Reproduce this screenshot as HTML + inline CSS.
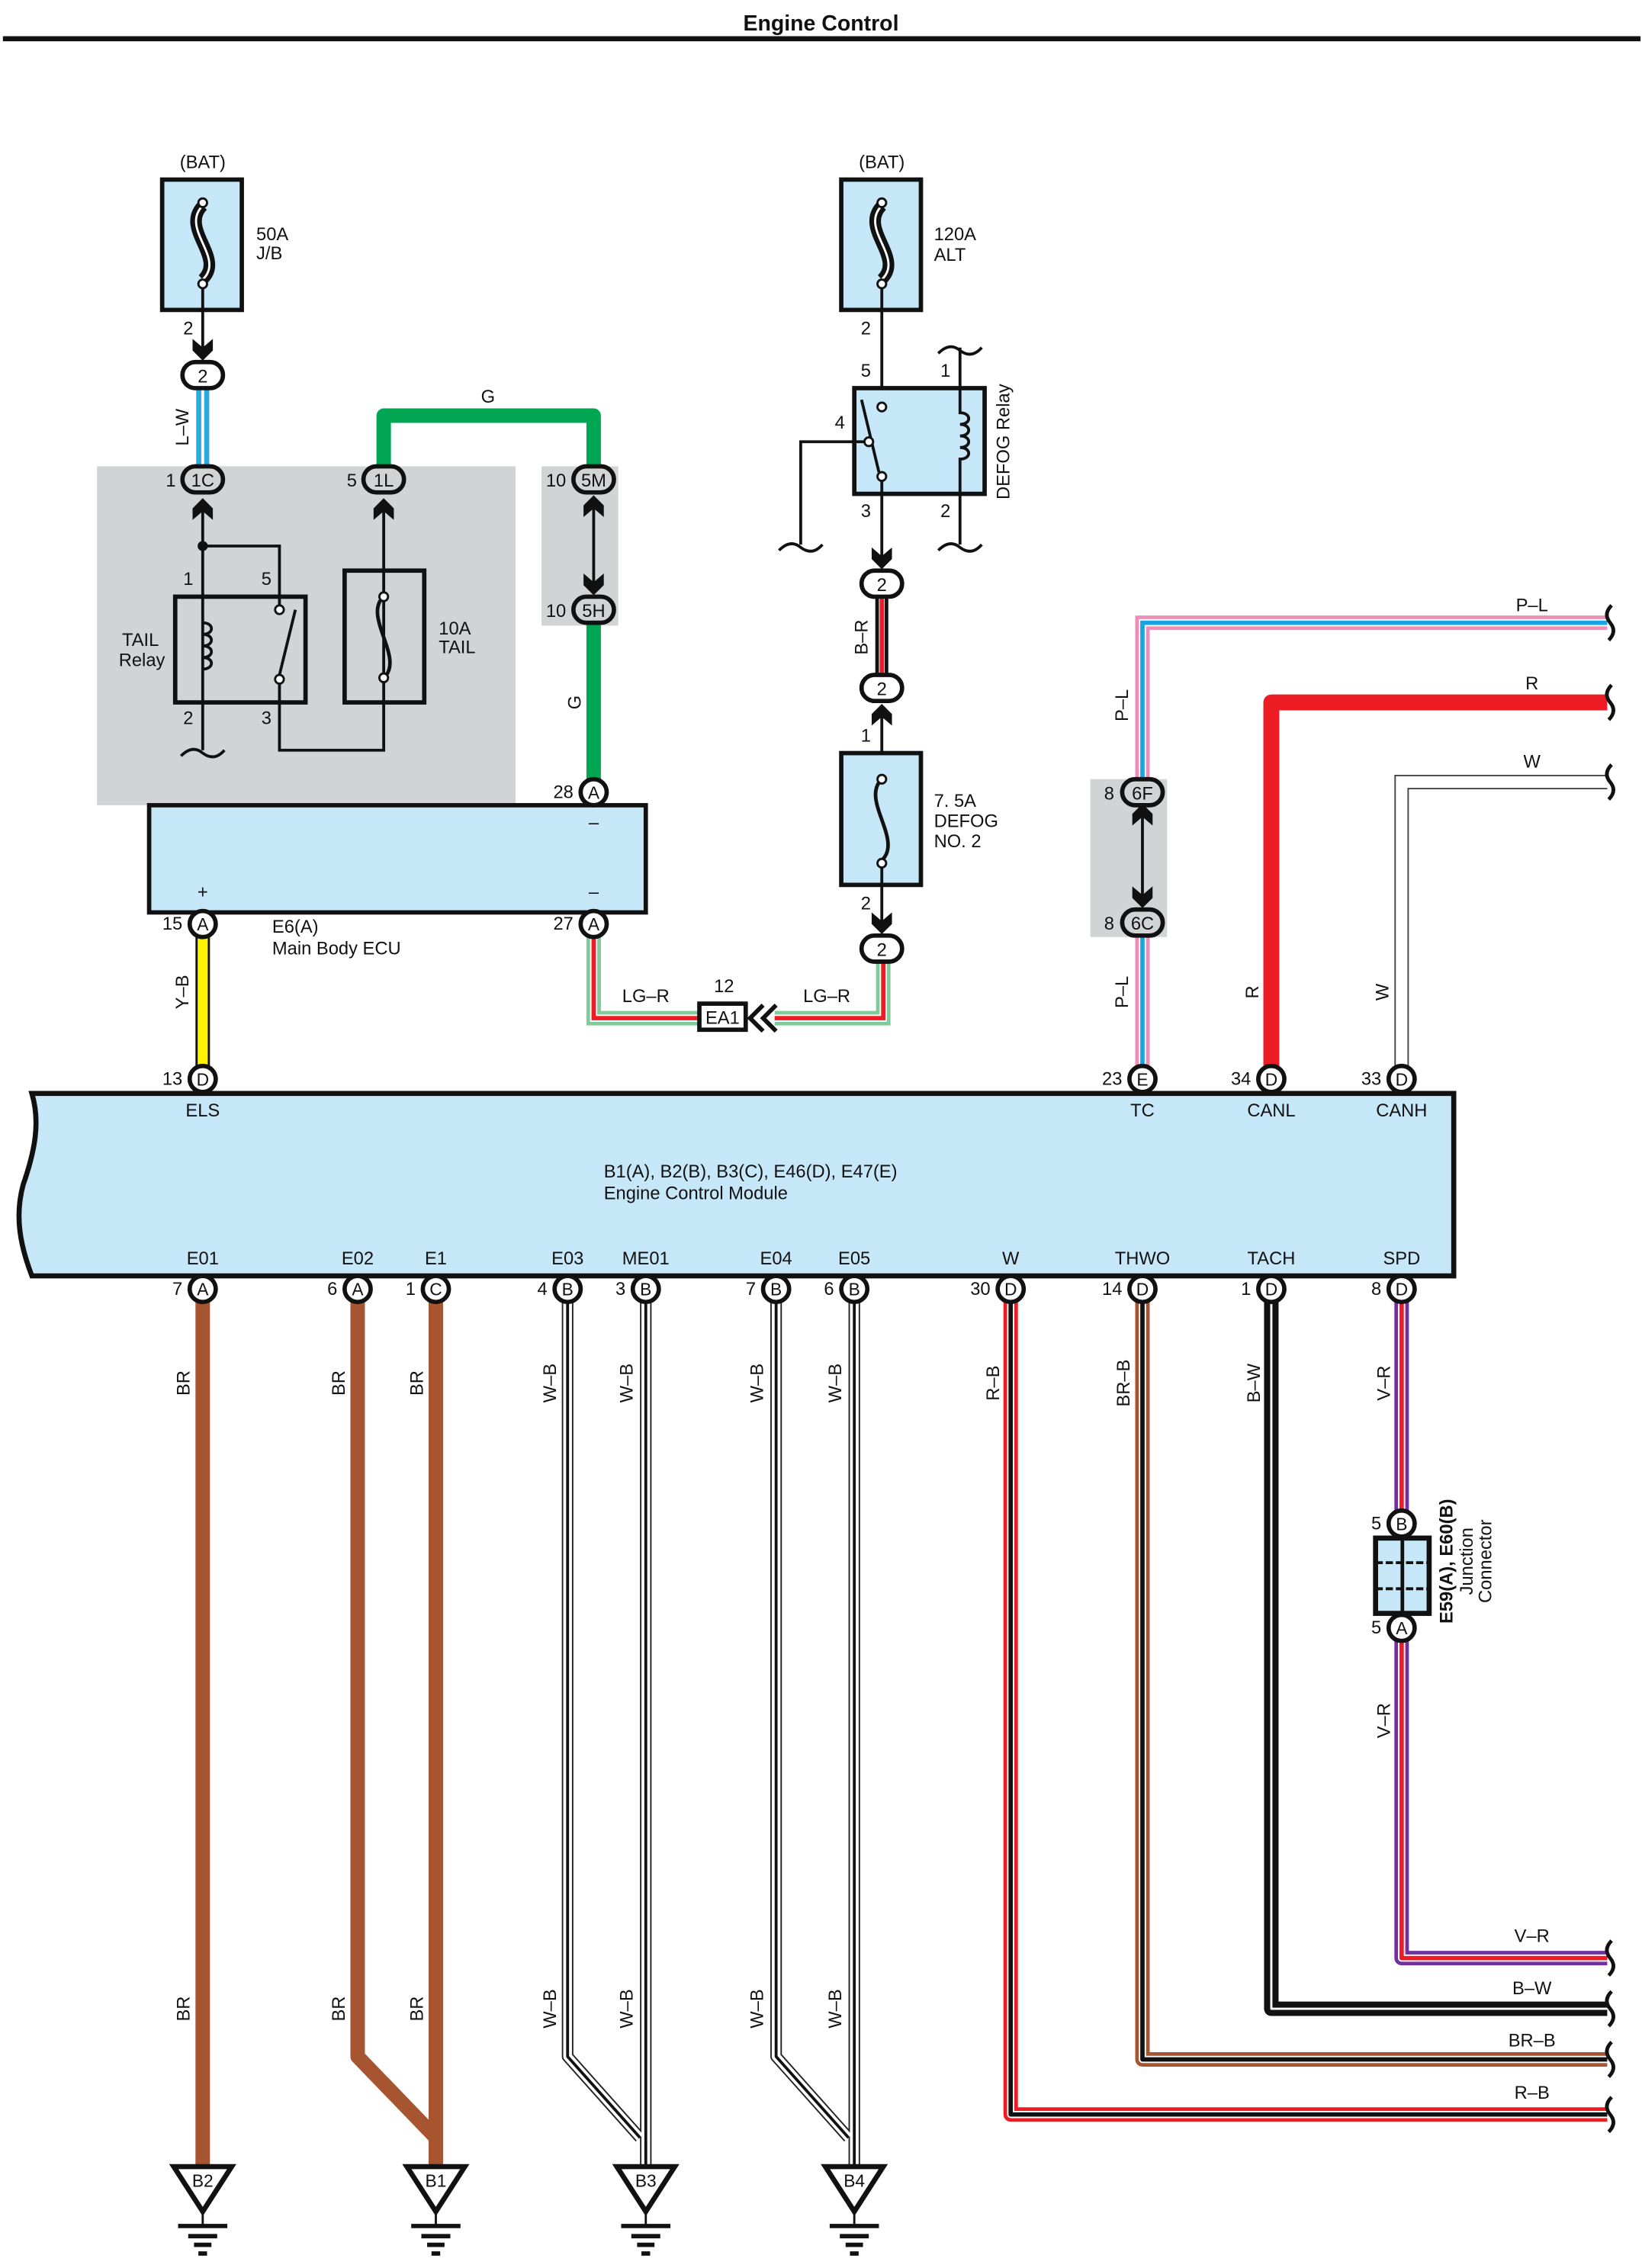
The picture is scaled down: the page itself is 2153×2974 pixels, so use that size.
<!DOCTYPE html>
<html><head><meta charset="utf-8"><style>
html,body{margin:0;padding:0;background:#fff;}
svg{display:block;}
text{font-family:"Liberation Sans",Arial,sans-serif;fill:#111;}
</style></head><body>
<svg width="2153" height="2974" viewBox="0 0 1134 1566" preserveAspectRatio="none" xmlns="http://www.w3.org/2000/svg">
<defs>
<path id="chD" d="M-7,-10 L0,-4 L7,-10 L7,-2 L0,5 L-7,-2Z" fill="#111"/>
<path id="chU" d="M-7,10 L0,4 L7,10 L7,2 L0,-5 L-7,2Z" fill="#111"/>
</defs>
<rect width="1134" height="1566" fill="#fff"/>
<text x="567" y="21" font-size="15" font-weight="bold" text-anchor="middle">Engine Control</text>
<rect x="2" y="25" width="1131" height="3.5" fill="#111"/>

<rect x="67" y="322" width="289" height="234" fill="#d1d3d4"/>
<rect x="374" y="322" width="53" height="110" fill="#d1d3d4"/>
<rect x="753" y="538" width="53" height="109" fill="#d1d3d4"/>

<text x="140" y="116" font-size="12.5" text-anchor="middle">(BAT)</text>
<rect x="112" y="124" width="55" height="90" fill="#c6e7f8" stroke="#111" stroke-width="3"/>
<path d="M140,142 C124,158 156,178 140,193" fill="none" stroke="#111" stroke-width="8"/>
<path d="M140,142 C124,158 156,178 140,193" fill="none" stroke="#fff" stroke-width="1.5"/>
<circle cx="140" cy="140" r="3" fill="#fff" stroke="#111" stroke-width="1.5"/>
<circle cx="140" cy="196" r="3" fill="#fff" stroke="#111" stroke-width="1.5"/>
<text x="177" y="166" font-size="12.5">50A</text><text x="177" y="179" font-size="12.5">J/B</text>
<line x1="140" y1="199" x2="140" y2="248" stroke="#111" stroke-width="2"/>
<text x="130" y="231" font-size="12.5" text-anchor="middle">2</text>
<use href="#chD" x="140" y="244"/>
<line x1="140" y1="268" x2="140" y2="322" stroke="#29abe2" stroke-width="9"/>
<line x1="140" y1="268" x2="140" y2="322" stroke="#fff" stroke-width="2"/>
<text transform="translate(130,295) rotate(-90)" font-size="12.5" text-anchor="middle">L–W</text>

<path d="M265,322 V287 H410 V322" fill="none" stroke="#00a651" stroke-width="10" stroke-linejoin="round"/>
<text x="337" y="278" font-size="12.5" text-anchor="middle">G</text>
<line x1="410" y1="430" x2="410" y2="538" stroke="#00a651" stroke-width="10"/>
<text transform="translate(401,485) rotate(-90)" font-size="12.5" text-anchor="middle">G</text>
<line x1="410" y1="345" x2="410" y2="408" stroke="#111" stroke-width="2"/>
<use href="#chU" x="410" y="347"/><use href="#chD" x="410" y="406"/>

<g stroke="#111" stroke-width="3">
<rect x="126" y="250" width="28" height="18" rx="9" fill="#fff"/>
<rect x="126" y="322" width="28" height="18" rx="9" fill="#d1d3d4"/>
<rect x="251" y="322" width="28" height="18" rx="9" fill="#d1d3d4"/>
<rect x="396" y="322" width="28" height="18" rx="9" fill="#d1d3d4"/>
<rect x="396" y="412" width="28" height="18" rx="9" fill="#d1d3d4"/>
</g>
<g font-size="12.5" text-anchor="middle">
<text x="140" y="264">2</text><text x="140" y="336">1C</text><text x="265" y="336">1L</text>
<text x="410" y="336">5M</text><text x="410" y="426">5H</text>
<text x="118" y="336">1</text><text x="243" y="336">5</text><text x="384" y="336">10</text><text x="384" y="426">10</text>
</g>

<use href="#chU" x="140" y="349"/><use href="#chU" x="265" y="349"/>
<line x1="140" y1="350" x2="140" y2="518" stroke="#111" stroke-width="2"/>
<path d="M125,522 q8,-8 15,-2 q8,6 15,-2" fill="none" stroke="#111" stroke-width="2"/>
<circle cx="140" cy="377" r="3.5" fill="#111"/>
<path d="M140,377 H193 V418" fill="none" stroke="#111" stroke-width="2"/>
<rect x="121" y="412" width="90" height="73" fill="none" stroke="#111" stroke-width="3"/>
<path d="M140,430 c8,0 8,8 0,8 c8,0 8,8 0,8 c8,0 8,8 0,8 c8,0 8,8 0,8" fill="none" stroke="#111" stroke-width="2"/>
<circle cx="193" cy="421" r="3" fill="#fff" stroke="#111" stroke-width="1.5"/>
<circle cx="193" cy="469" r="3" fill="#fff" stroke="#111" stroke-width="1.5"/>
<line x1="193" y1="466" x2="204" y2="421" stroke="#111" stroke-width="2"/>
<path d="M193,472 V518 H265 V350" fill="none" stroke="#111" stroke-width="2"/>
<text x="130" y="404" font-size="12.5" text-anchor="middle">1</text><text x="184" y="404" font-size="12.5" text-anchor="middle">5</text>
<text x="130" y="500" font-size="12.5" text-anchor="middle">2</text><text x="184" y="500" font-size="12.5" text-anchor="middle">3</text>
<text x="97" y="446" font-size="12.5" text-anchor="middle">TAIL</text><text x="98" y="460" font-size="12.5" text-anchor="middle">Relay</text>
<rect x="238" y="394" width="55" height="91" fill="none" stroke="#111" stroke-width="3"/>
<path d="M265,412 C250,425 280,455 265,468" fill="none" stroke="#111" stroke-width="2.5"/>
<circle cx="265" cy="412" r="3" fill="#fff" stroke="#111" stroke-width="1.5"/>
<circle cx="265" cy="468" r="3" fill="#fff" stroke="#111" stroke-width="1.5"/>
<text x="303" y="438" font-size="12.5">10A</text><text x="303" y="451" font-size="12.5">TAIL</text>

<rect x="103" y="556" width="343" height="74" fill="#c6e7f8" stroke="#111" stroke-width="3"/>
<text x="410" y="572" font-size="12.5" text-anchor="middle">–</text>
<text x="140" y="620" font-size="12.5" text-anchor="middle">+</text>
<text x="410" y="620" font-size="12.5" text-anchor="middle">–</text>
<text x="188" y="644" font-size="12.5">E6(A)</text><text x="188" y="659" font-size="12.5">Main Body ECU</text>

<line x1="140" y1="646" x2="140" y2="738" stroke="#111" stroke-width="10"/>
<line x1="140" y1="646" x2="140" y2="738" stroke="#fff200" stroke-width="7"/>
<text transform="translate(130,685) rotate(-90)" font-size="12.5" text-anchor="middle">Y–B</text>

<path d="M410,646 V703 H483 M535,703 H610 V664" fill="none" stroke="#7fcc9a" stroke-width="10"/>
<path d="M410,646 V703 H483 M535,703 H610 V664" fill="none" stroke="#fff" stroke-width="5"/>
<path d="M410,646 V703 H483 M535,703 H610 V664" fill="none" stroke="#ed1c24" stroke-width="3"/>
<rect x="483" y="693" width="32" height="18" fill="#fff" stroke="#111" stroke-width="3"/>
<text x="499" y="707" font-size="12.5" text-anchor="middle">EA1</text>
<text x="500" y="685" font-size="12.5" text-anchor="middle">12</text>
<path d="M527,694 L518,703 L527,712 M536,694 L527,703 L536,712" fill="none" stroke="#111" stroke-width="3"/>
<text x="446" y="692" font-size="12.5" text-anchor="middle">LG–R</text>
<text x="571" y="692" font-size="12.5" text-anchor="middle">LG–R</text>

<text x="609" y="116" font-size="12.5" text-anchor="middle">(BAT)</text>
<rect x="581" y="124" width="55" height="90" fill="#c6e7f8" stroke="#111" stroke-width="3"/>
<path d="M609,142 C593,158 625,178 609,193" fill="none" stroke="#111" stroke-width="8"/>
<path d="M609,142 C593,158 625,178 609,193" fill="none" stroke="#fff" stroke-width="1.5"/>
<circle cx="609" cy="140" r="3" fill="#fff" stroke="#111" stroke-width="1.5"/>
<circle cx="609" cy="196" r="3" fill="#fff" stroke="#111" stroke-width="1.5"/>
<text x="645" y="166" font-size="12.5">120A</text><text x="645" y="180" font-size="12.5">ALT</text>
<line x1="609" y1="199" x2="609" y2="280" stroke="#111" stroke-width="2"/>
<text x="598" y="231" font-size="12.5" text-anchor="middle">2</text>
<text x="598" y="260" font-size="12.5" text-anchor="middle">5</text>
<text x="653" y="260" font-size="12.5" text-anchor="middle">1</text>
<rect x="590" y="268" width="90" height="73" fill="#c6e7f8" stroke="#111" stroke-width="3"/>
<circle cx="609" cy="281" r="3" fill="#fff" stroke="#111" stroke-width="1.5"/>
<circle cx="609" cy="329" r="3" fill="#fff" stroke="#111" stroke-width="1.5"/>
<line x1="607" y1="326" x2="595" y2="276" stroke="#111" stroke-width="2"/>
<circle cx="600" cy="305" r="3" fill="#fff" stroke="#111" stroke-width="1.5"/>
<path d="M597,305 H553 V376" fill="none" stroke="#111" stroke-width="2"/>
<path d="M538,380 q8,-8 15,-2 q8,6 15,-2" fill="none" stroke="#111" stroke-width="2"/>
<text x="580" y="296" font-size="12.5" text-anchor="middle">4</text>
<path d="M663,240 V285 c8,0 8,8 0,8 c8,0 8,8 0,8 c8,0 8,8 0,8 c8,0 8,8 0,8 V376" fill="none" stroke="#111" stroke-width="2"/>
<path d="M648,244 q8,-8 15,-2 q8,6 15,-2" fill="none" stroke="#111" stroke-width="2"/>
<path d="M648,380 q8,-8 15,-2 q8,6 15,-2" fill="none" stroke="#111" stroke-width="2"/>
<text x="598" y="357" font-size="12.5" text-anchor="middle">3</text>
<text x="653" y="357" font-size="12.5" text-anchor="middle">2</text>
<text transform="translate(697,305) rotate(-90)" font-size="12.5" text-anchor="middle">DEFOG Relay</text>
<line x1="609" y1="332" x2="609" y2="392" stroke="#111" stroke-width="2"/>
<use href="#chD" x="609" y="388"/>
<line x1="609" y1="412" x2="609" y2="466" stroke="#111" stroke-width="9"/>
<line x1="609" y1="412" x2="609" y2="466" stroke="#fff" stroke-width="4"/>
<line x1="609" y1="412" x2="609" y2="466" stroke="#ed1c24" stroke-width="3"/>
<text transform="translate(599,440) rotate(-90)" font-size="12.5" text-anchor="middle">B–R</text>
<use href="#chU" x="609" y="491"/>
<line x1="609" y1="492" x2="609" y2="521" stroke="#111" stroke-width="2"/>
<text x="598" y="512" font-size="12.5" text-anchor="middle">1</text>
<rect x="581" y="520" width="55" height="91" fill="#c6e7f8" stroke="#111" stroke-width="3"/>
<path d="M609,538 C594,552 624,580 609,594" fill="none" stroke="#111" stroke-width="2.5"/>
<circle cx="609" cy="538" r="3" fill="#fff" stroke="#111" stroke-width="1.5"/>
<circle cx="609" cy="596" r="3" fill="#fff" stroke="#111" stroke-width="1.5"/>
<text x="645" y="557" font-size="12.5">7. 5A</text><text x="645" y="571" font-size="12.5">DEFOG</text><text x="645" y="585" font-size="12.5">NO. 2</text>
<line x1="609" y1="599" x2="609" y2="644" stroke="#111" stroke-width="2"/>
<text x="598" y="628" font-size="12.5" text-anchor="middle">2</text>
<use href="#chD" x="609" y="640"/>
<g stroke="#111" stroke-width="3" fill="#fff">
<rect x="595" y="394" width="28" height="18" rx="9"/>
<rect x="595" y="466" width="28" height="18" rx="9"/>
<rect x="595" y="646" width="28" height="18" rx="9"/>
</g>
<g font-size="12.5" text-anchor="middle"><text x="609" y="408">2</text><text x="609" y="480">2</text><text x="609" y="660">2</text></g>

<path d="M789,538 V430 H1110" fill="none" stroke="#f08cb8" stroke-width="10"/>
<path d="M789,538 V430 H1110" fill="none" stroke="#fff" stroke-width="5"/>
<path d="M789,538 V430 H1110" fill="none" stroke="#1aa3e0" stroke-width="3"/>
<path d="M789,647 V738" fill="none" stroke="#f08cb8" stroke-width="10"/>
<path d="M789,647 V738" fill="none" stroke="#fff" stroke-width="5"/>
<path d="M789,647 V738" fill="none" stroke="#1aa3e0" stroke-width="3"/>
<line x1="789" y1="560" x2="789" y2="622" stroke="#111" stroke-width="2"/>
<use href="#chU" x="789" y="560"/><use href="#chD" x="789" y="622"/>
<g stroke="#111" stroke-width="3" fill="#d1d3d4">
<rect x="775" y="538" width="28" height="18" rx="9"/>
<rect x="775" y="628" width="28" height="18" rx="9"/>
</g>
<g font-size="12.5" text-anchor="middle"><text x="789" y="552">6F</text><text x="789" y="642">6C</text><text x="766" y="552">8</text><text x="766" y="642">8</text></g>
<text transform="translate(779,487) rotate(-90)" font-size="12.5" text-anchor="middle">P–L</text>
<text transform="translate(779,685) rotate(-90)" font-size="12.5" text-anchor="middle">P–L</text>
<text x="1058" y="422" font-size="12.5" text-anchor="middle">P–L</text>
<path d="M878,738 V485 H1110" fill="none" stroke="#ed1c24" stroke-width="11" stroke-linejoin="round"/>
<text x="1058" y="476" font-size="12.5" text-anchor="middle">R</text>
<text transform="translate(869,685) rotate(-90)" font-size="12.5" text-anchor="middle">R</text>
<path d="M968,738 V540 H1110" fill="none" stroke="#444" stroke-width="10"/>
<path d="M968,738 V540 H1110" fill="none" stroke="#fff" stroke-width="8"/>
<text x="1058" y="530" font-size="12.5" text-anchor="middle">W</text>
<text transform="translate(959,685) rotate(-90)" font-size="12.5" text-anchor="middle">W</text>

<path d="M22,755 H1004 V881 H22 C14,860 10,840 16,818 C24,795 28,775 22,755 Z" fill="#c6e7f8" stroke="#111" stroke-width="3.5"/>
<g font-size="12.5" text-anchor="middle">
<text x="140" y="771">ELS</text><text x="789" y="771">TC</text><text x="878" y="771">CANL</text><text x="968" y="771">CANH</text>
<text x="140" y="873">E01</text><text x="247" y="873">E02</text><text x="301" y="873">E1</text><text x="392" y="873">E03</text>
<text x="446" y="873">ME01</text><text x="536" y="873">E04</text><text x="590" y="873">E05</text><text x="698" y="873">W</text>
<text x="789" y="873">THWO</text><text x="878" y="873">TACH</text><text x="968" y="873">SPD</text>
</g>
<text x="417" y="813" font-size="12.5">B1(A), B2(B), B3(C), E46(D), E47(E)</text>
<text x="417" y="828" font-size="12.5">Engine Control Module</text>

<g fill="none" stroke-linejoin="round">
<path d="M140,898 V1496" stroke="#a65530" stroke-width="10"/>
<path d="M247,898 V1420 L301,1476 M301,898 V1496" stroke="#a65530" stroke-width="10"/>
<path d="M392,898 V1420 L442,1476 M446,898 V1496 M536,898 V1420 L586,1476 M590,898 V1496" stroke="#222" stroke-width="8"/>
<path d="M392,898 V1420 L442,1476 M446,898 V1496 M536,898 V1420 L586,1476 M590,898 V1496" stroke="#fff" stroke-width="6"/>
<path d="M392,898 V1420 L442,1476 M446,898 V1496 M536,898 V1420 L586,1476 M590,898 V1496" stroke="#111" stroke-width="2"/>
<path d="M698,898 V1460 H1110" stroke="#ed1c24" stroke-width="10"/>
<path d="M698,898 V1460 H1110" stroke="#fff" stroke-width="5"/>
<path d="M698,898 V1460 H1110" stroke="#111" stroke-width="3"/>
<path d="M789,898 V1422 H1110" stroke="#a65530" stroke-width="10"/>
<path d="M789,898 V1422 H1110" stroke="#fff" stroke-width="5"/>
<path d="M789,898 V1422 H1110" stroke="#111" stroke-width="3"/>
<path d="M878,898 V1387 H1110" stroke="#111" stroke-width="10"/>
<path d="M878,898 V1387 H1110" stroke="#fff" stroke-width="1.5"/>
<path d="M968,898 V1352 H1110" stroke="#7030a0" stroke-width="10"/>
<path d="M968,898 V1352 H1110" stroke="#fff" stroke-width="5"/>
<path d="M968,898 V1352 H1110" stroke="#ed1c24" stroke-width="3"/>
</g>
<g fill="none" stroke="#111" stroke-width="2.5">
<path d="M1113,418 q-6,6 -1,12 q5,6 -1,12"/>
<path d="M1113,473 q-6,6 -1,12 q5,6 -1,12"/>
<path d="M1113,528 q-6,6 -1,12 q5,6 -1,12"/>
<path d="M1113,1340 q-6,6 -1,12 q5,6 -1,12"/>
<path d="M1113,1375 q-6,6 -1,12 q5,6 -1,12"/>
<path d="M1113,1410 q-6,6 -1,12 q5,6 -1,12"/>
<path d="M1113,1448 q-6,6 -1,12 q5,6 -1,12"/>
</g>
<g font-size="12.5" text-anchor="middle">
<text x="1058" y="1341">V–R</text><text x="1058" y="1377">B–W</text><text x="1058" y="1413">BR–B</text><text x="1058" y="1449">R–B</text>
</g>
<g font-size="12.5" text-anchor="middle">
<text transform="translate(131,955) rotate(-90)">BR</text>
<text transform="translate(238,955) rotate(-90)">BR</text>
<text transform="translate(292,955) rotate(-90)">BR</text>
<text transform="translate(384,955) rotate(-90)">W–B</text>
<text transform="translate(437,955) rotate(-90)">W–B</text>
<text transform="translate(527,955) rotate(-90)">W–B</text>
<text transform="translate(581,955) rotate(-90)">W–B</text>
<text transform="translate(690,955) rotate(-90)">R–B</text>
<text transform="translate(780,955) rotate(-90)">BR–B</text>
<text transform="translate(870,955) rotate(-90)">B–W</text>
<text transform="translate(960,955) rotate(-90)">V–R</text>
<text transform="translate(131,1387) rotate(-90)">BR</text>
<text transform="translate(238,1387) rotate(-90)">BR</text>
<text transform="translate(292,1387) rotate(-90)">BR</text>
<text transform="translate(384,1387) rotate(-90)">W–B</text>
<text transform="translate(437,1387) rotate(-90)">W–B</text>
<text transform="translate(527,1387) rotate(-90)">W–B</text>
<text transform="translate(581,1387) rotate(-90)">W–B</text>
<text transform="translate(960,1188) rotate(-90)">V–R</text>
</g>

<rect x="950" y="1062" width="37" height="52" fill="#c6e7f8" stroke="#111" stroke-width="3.5"/>
<line x1="968.5" y1="1062" x2="968.5" y2="1114" stroke="#111" stroke-width="2.5"/>
<line x1="950" y1="1079" x2="987" y2="1079" stroke="#111" stroke-width="2" stroke-dasharray="5,2"/>
<line x1="950" y1="1097" x2="987" y2="1097" stroke="#111" stroke-width="2" stroke-dasharray="5,2"/>
<text transform="translate(1003,1078) rotate(-90)" font-size="12.5" text-anchor="middle" font-weight="bold">E59(A), E60(B)</text>
<text transform="translate(1017,1078) rotate(-90)" font-size="12.5" text-anchor="middle">Junction</text>
<text transform="translate(1030,1078) rotate(-90)" font-size="12.5" text-anchor="middle">Connector</text>

<g stroke="#111" stroke-width="3" fill="#fff">
<circle cx="410" cy="547" r="9"/><circle cx="140" cy="638" r="9"/><circle cx="410" cy="638" r="9"/>
<circle cx="140" cy="745" r="9"/><circle cx="789" cy="745" r="9"/><circle cx="878" cy="745" r="9"/><circle cx="968" cy="745" r="9"/>
<circle cx="140" cy="890" r="9"/><circle cx="247" cy="890" r="9"/><circle cx="301" cy="890" r="9"/>
<circle cx="392" cy="890" r="9"/><circle cx="446" cy="890" r="9"/><circle cx="536" cy="890" r="9"/><circle cx="590" cy="890" r="9"/>
<circle cx="698" cy="890" r="9"/><circle cx="789" cy="890" r="9"/><circle cx="878" cy="890" r="9"/><circle cx="968" cy="890" r="9"/>
<circle cx="968" cy="1052" r="9"/><circle cx="968" cy="1124" r="9"/>
</g>
<g font-size="12" text-anchor="middle">
<text x="410" y="551.5">A</text><text x="140" y="642.5">A</text><text x="410" y="642.5">A</text>
<text x="140" y="749.5">D</text><text x="789" y="749.5">E</text><text x="878" y="749.5">D</text><text x="968" y="749.5">D</text>
<text x="140" y="894.5">A</text><text x="247" y="894.5">A</text><text x="301" y="894.5">C</text>
<text x="392" y="894.5">B</text><text x="446" y="894.5">B</text><text x="536" y="894.5">B</text><text x="590" y="894.5">B</text>
<text x="698" y="894.5">D</text><text x="789" y="894.5">D</text><text x="878" y="894.5">D</text><text x="968" y="894.5">D</text>
<text x="968" y="1056.5">B</text><text x="968" y="1128.5">A</text>
</g>
<g font-size="12.5" text-anchor="end">
<text x="396" y="551">28</text><text x="126" y="642">15</text><text x="396" y="642">27</text>
<text x="126" y="749">13</text><text x="775" y="749">23</text><text x="864" y="749">34</text><text x="954" y="749">33</text>
<text x="126" y="894">7</text><text x="233" y="894">6</text><text x="287" y="894">1</text>
<text x="378" y="894">4</text><text x="432" y="894">3</text><text x="522" y="894">7</text><text x="576" y="894">6</text>
<text x="684" y="894">30</text><text x="775" y="894">14</text><text x="864" y="894">1</text><text x="954" y="894">8</text>
<text x="954" y="1056">5</text><text x="954" y="1128">5</text>
</g>

<g stroke="#111" fill="#fff">
<g transform="translate(140,0)"><path d="M-20,1496 H20 L0,1527 Z" stroke-width="3.5"/><line x1="0" y1="1527" x2="0" y2="1536" stroke-width="1.5"/><line x1="-17" y1="1537" x2="17" y2="1537" stroke-width="3"/><line x1="-10" y1="1544" x2="10" y2="1544" stroke-width="3"/><line x1="-6" y1="1550" x2="6" y2="1550" stroke-width="3"/><line x1="-3" y1="1556" x2="3" y2="1556" stroke-width="3"/></g>
<g transform="translate(301,0)"><path d="M-20,1496 H20 L0,1527 Z" stroke-width="3.5"/><line x1="0" y1="1527" x2="0" y2="1536" stroke-width="1.5"/><line x1="-17" y1="1537" x2="17" y2="1537" stroke-width="3"/><line x1="-10" y1="1544" x2="10" y2="1544" stroke-width="3"/><line x1="-6" y1="1550" x2="6" y2="1550" stroke-width="3"/><line x1="-3" y1="1556" x2="3" y2="1556" stroke-width="3"/></g>
<g transform="translate(446,0)"><path d="M-20,1496 H20 L0,1527 Z" stroke-width="3.5"/><line x1="0" y1="1527" x2="0" y2="1536" stroke-width="1.5"/><line x1="-17" y1="1537" x2="17" y2="1537" stroke-width="3"/><line x1="-10" y1="1544" x2="10" y2="1544" stroke-width="3"/><line x1="-6" y1="1550" x2="6" y2="1550" stroke-width="3"/><line x1="-3" y1="1556" x2="3" y2="1556" stroke-width="3"/></g>
<g transform="translate(590,0)"><path d="M-20,1496 H20 L0,1527 Z" stroke-width="3.5"/><line x1="0" y1="1527" x2="0" y2="1536" stroke-width="1.5"/><line x1="-17" y1="1537" x2="17" y2="1537" stroke-width="3"/><line x1="-10" y1="1544" x2="10" y2="1544" stroke-width="3"/><line x1="-6" y1="1550" x2="6" y2="1550" stroke-width="3"/><line x1="-3" y1="1556" x2="3" y2="1556" stroke-width="3"/></g>
</g>
<g font-size="12" text-anchor="middle">
<text x="140" y="1510">B2</text><text x="301" y="1510">B1</text><text x="446" y="1510">B3</text><text x="590" y="1510">B4</text>
</g>
</svg>
</body></html>
